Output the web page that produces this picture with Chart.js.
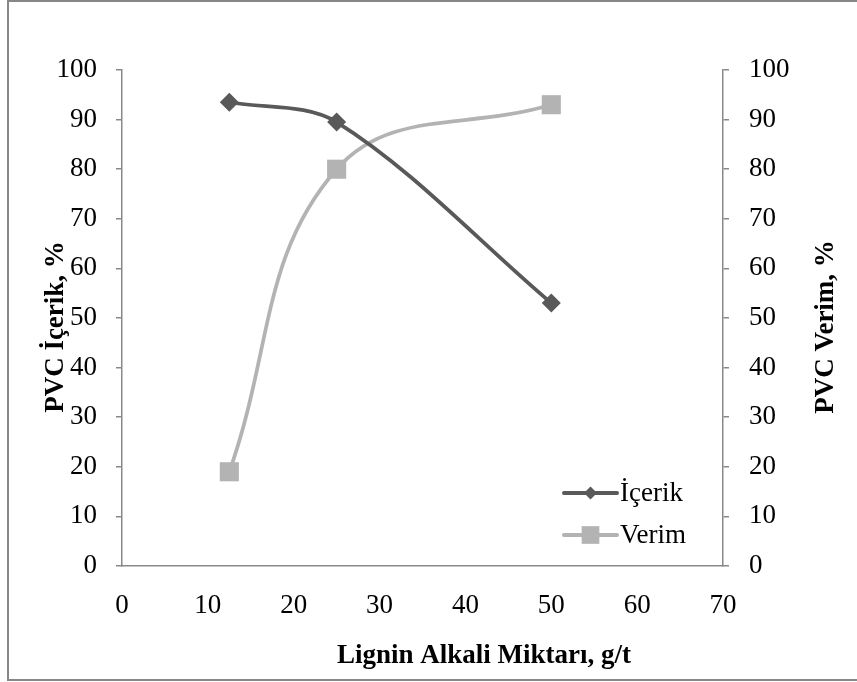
<!DOCTYPE html>
<html>
<head>
<meta charset="utf-8">
<title>PVC İçerik / Verim</title>
<script src="https://cdn.jsdelivr.net/npm/chart.js@4.4.1/dist/chart.umd.min.js"></script>
<style>
  html, body { margin: 0; padding: 0; background: #fff; overflow: hidden; }
  #wrap { position: relative; width: 857px; height: 682px; }
  #frame {
    position: absolute; left: 7px; top: 0; width: 870px; height: 681px;
    border: 2px solid #878787; box-sizing: border-box; pointer-events: none;
  }
  canvas { position: absolute; left: 0; top: 0; }
</style>
</head>
<body>
<div id="wrap">
  <canvas id="chart" width="857" height="682"></canvas>
  <div id="frame"></div>
</div>
<script>
// Lignin alkali amount (g/t) and the two measured series
const ligninAmount = [12.5, 25, 50];
const icerikValues = [93.5, 89.5, 53];
const verimValues = [19, 80, 93];

const xTicks = [0, 10, 20, 30, 40, 50, 60, 70];
const yTicks = [0, 10, 20, 30, 40, 50, 60, 70, 80, 90, 100];

const xTitle = 'Lignin Alkali Miktarı, g/t';
const leftTitle = 'PVC İçerik, %';
const rightTitle = 'PVC Verim, %';

const DARK = '#595959';
const LIGHT = '#b3b3b3';
const AXIS = '#898989';
const FONT = 'Liberation Serif, Times New Roman, serif';
const SIZE = 27;

const toPoints = (xs, ys) => xs.map((x, i) => ({ x: x, y: ys[i] }));

// Excel-style legend: short line with the marker in the middle
const seriesLegend = {
    id: 'seriesLegend',
    afterDraw(chart) {
        const ctx = chart.ctx;
        const items = [
            { text: 'İçerik', color: DARK, style: 'rectRot', radius: 6.5, y: 493 },
            { text: 'Verim', color: LIGHT, style: 'rect', radius: 12.5, y: 535 }
        ];
        ctx.save();
        items.forEach(item => {
            ctx.strokeStyle = item.color;
            ctx.lineWidth = 4;
            ctx.lineCap = 'round';
            ctx.beginPath();
            ctx.moveTo(564, item.y);
            ctx.lineTo(617, item.y);
            ctx.stroke();
            ctx.fillStyle = item.color;
            Chart.helpers.drawPoint(ctx, {
                pointStyle: item.style, radius: item.radius, rotation: 0, borderWidth: 0
            }, 590.5, item.y);
            ctx.fillStyle = '#000';
            ctx.font = SIZE + 'px ' + FONT;
            ctx.textAlign = 'left';
            ctx.textBaseline = 'middle';
            ctx.fillText(item.text, 620, item.y + 1);
        });
        ctx.restore();
    }
};

// Axis titles; both vertical ones read bottom-to-top
const axisTitles = {
    id: 'axisTitles',
    afterDraw(chart) {
        const ctx = chart.ctx;
        ctx.save();
        ctx.font = 'bold ' + SIZE + 'px ' + FONT;
        ctx.fillStyle = '#000';
        ctx.textAlign = 'center';
        ctx.textBaseline = 'middle';
        ctx.fillText(xTitle, 484, 656);
        [[leftTitle, 56], [rightTitle, 826]].forEach(([text, x]) => {
            ctx.save();
            ctx.translate(x, 327);
            ctx.rotate(-Math.PI / 2);
            ctx.fillText(text, 0, 0);
            ctx.restore();
        });
        ctx.restore();
    }
};

const tickFont = { family: FONT, size: SIZE };

const yAxisBase = {
    min: 0,
    max: 100,
    afterBuildTicks: scale => { scale.ticks = yTicks.map(v => ({ value: v })); },
    grid: { drawOnChartArea: false, color: AXIS, lineWidth: 1.5, tickLength: 6 },
    border: { color: AXIS, width: 1.5 }
};

new Chart(document.getElementById('chart'), {
    type: 'scatter',
    data: {
        datasets: [
            {
                label: 'İçerik',
                data: toPoints(ligninAmount, icerikValues),
                yAxisID: 'y',
                showLine: true,
                borderColor: DARK,
                backgroundColor: DARK,
                borderWidth: 3.75,
                tension: 0.33,
                pointStyle: 'rectRot',
                pointRadius: 9.5,
                pointBorderWidth: 0,
                pointBackgroundColor: DARK
            },
            {
                label: 'Verim',
                data: toPoints(ligninAmount, verimValues),
                yAxisID: 'y2',
                showLine: true,
                borderColor: LIGHT,
                backgroundColor: LIGHT,
                borderWidth: 3.75,
                tension: 0.4,
                pointStyle: 'rect',
                pointRadius: 13.5,
                pointBorderWidth: 0,
                pointBackgroundColor: LIGHT
            }
        ]
    },
    options: {
        responsive: false,
        animation: false,
        layout: { padding: { top: 70, left: 0, right: 0, bottom: 0 } },
        plugins: {
            legend: { display: false },
            tooltip: { enabled: false }
        },
        scales: {
            x: {
                type: 'linear',
                min: 0,
                max: 70,
                afterBuildTicks: scale => { scale.ticks = xTicks.map(v => ({ value: v })); },
                afterFit: scale => { scale.height = 116; },
                grid: { display: false, drawTicks: false },
                border: { color: AXIS, width: 1.5 },
                ticks: { color: '#000', font: tickFont, padding: 24, maxRotation: 0 }
            },
            y: Object.assign({}, yAxisBase, {
                position: 'left',
                afterFit: scale => { scale.width = 122; },
                ticks: { color: '#000', font: tickFont, padding: 19 }
            }),
            y2: Object.assign({}, yAxisBase, {
                position: 'right',
                afterFit: scale => { scale.width = 134; },
                ticks: { color: '#000', font: tickFont, padding: 20 }
            })
        }
    },
    plugins: [seriesLegend, axisTitles]
});
</script>
</body>
</html>
